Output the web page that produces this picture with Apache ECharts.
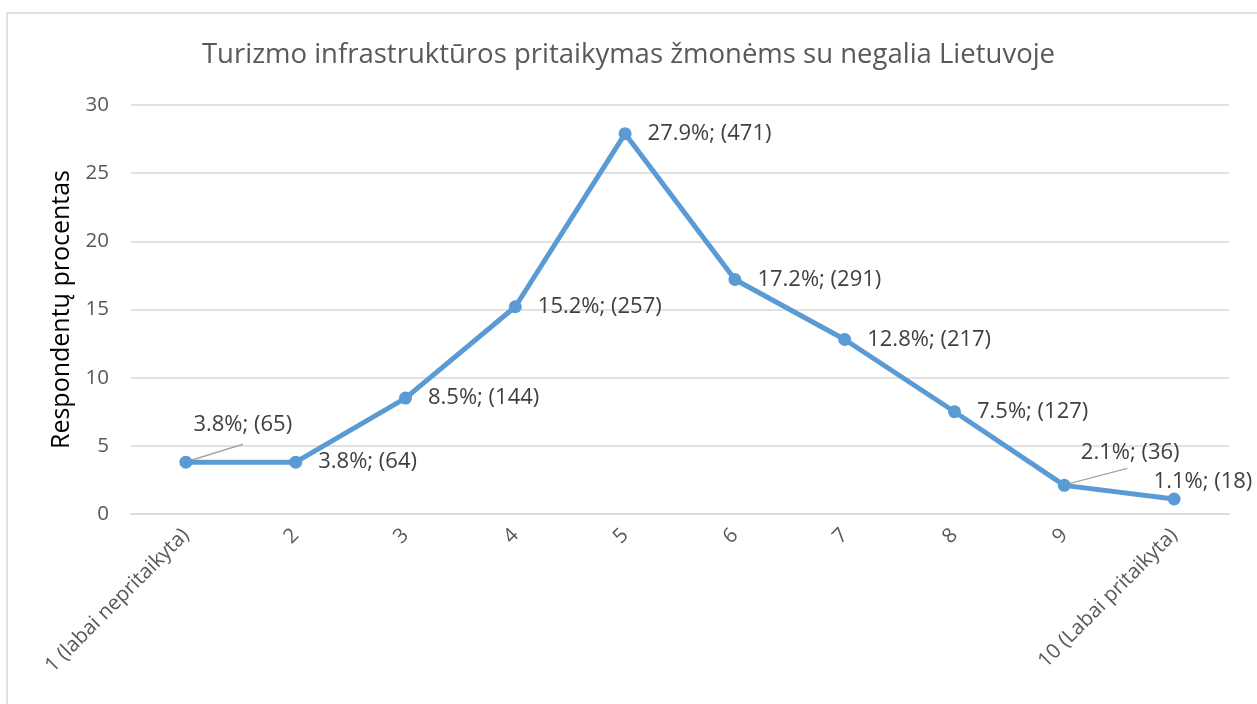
<!DOCTYPE html>
<html>
<head>
<meta charset="utf-8">
<script src="https://cdn.jsdelivr.net/npm/echarts@6/dist/echarts.min.js"></script>
<style>
  html, body { margin: 0; padding: 0; background: #fff; }
  #chart { width: 1257px; height: 704px; }
</style>
</head>
<body>
<div id="chart"></div>
<script>
// duomenys
const categories = ['1 (labai nepritaikyta)', '2', '3', '4', '5', '6', '7', '8', '9', '10 (Labai pritaikyta)']
const percents = [3.8, 3.8, 8.5, 15.2, 27.9, 17.2, 12.8, 7.5, 2.1, 1.1]
const counts = [65, 64, 144, 257, 471, 291, 217, 127, 36, 18]
const yTicks = [0, 5, 10, 15, 20, 25, 30]

const chart = echarts.init(document.getElementById('chart'))

// perkeltos etiketės; line = rodyklės linijos galas (px nuo taško)
const labelShift = {
  0: { dx: -15, dy: -37, line: [57, -18] },
  8: { dx: -6, dy: -33, line: [63, -17] },
  9: { dx: -43, dy: -17 },
}

const guideData = Object.keys(labelShift)
  .filter((k) => labelShift[k].line)
  .map((k) => [Number(k), percents[k]])

chart.setOption({
  animation: false,
  title: {
    text: 'Turizmo infrastruktūros pritaikymas žmonėms su negalia Lietuvoje',
    left: 'center',
    top: 36,
    textStyle: {
      color: '#595959',
      fontFamily: 'Open Sans',
      fontSize: 27.5,
      fontWeight: 'normal',
    },
  },
  graphic: [
    {
      type: 'rect',
      shape: { x: 7, y: 13, width: 1300, height: 800 },
      style: { fill: 'none', stroke: '#d9d9d9', lineWidth: 1.5 },
      silent: true,
    },
  ],
  grid: {
    left: 131,
    right: 28,
    top: 105,
    bottom: 190,
  },
  xAxis: {
    type: 'category',
    data: categories,
    boundaryGap: true,
    axisLine: { lineStyle: { color: '#d9d9d9', width: 1.5 } },
    axisTick: { show: false },
    axisLabel: {
      rotate: 45,
      margin: 18,
      interval: 0,
      color: '#595959',
      fontFamily: 'Open Sans',
      fontSize: 20.5,
    },
  },
  yAxis: {
    type: 'value',
    min: yTicks[0],
    max: yTicks[yTicks.length - 1],
    interval: yTicks[1] - yTicks[0],
    name: 'Respondentų procentas',
    nameLocation: 'middle',
    nameGap: 55,
    nameTextStyle: {
      color: '#000',
      fontFamily: 'Open Sans',
      fontSize: 25,
    },
    axisLine: { show: false },
    axisTick: { show: false },
    splitLine: { lineStyle: { color: '#d9d9d9', width: 1.5 } },
    axisLabel: {
      color: '#595959',
      fontFamily: 'Open Sans',
      fontSize: 20.5,
      margin: 22,
    },
  },
  series: [
    {
      // rodyklės linijos prie perkeltų etikečių
      type: 'custom',
      data: guideData,
      z: 1,
      silent: true,
      renderItem: (params, api) => {
        const p = api.coord([api.value(0), api.value(1)])
        const off = labelShift[api.value(0)].line
        return {
          type: 'line',
          shape: { x1: p[0] + 2, y1: p[1] - 1, x2: p[0] + off[0], y2: p[1] + off[1] },
          style: { stroke: '#a6a6a6', lineWidth: 1.5 },
        }
      },
    },
    {
      type: 'line',
      data: percents,
      z: 2,
      symbol: 'circle',
      symbolSize: 13,
      lineStyle: { color: '#5b9bd5', width: 5 },
      itemStyle: { color: '#5b9bd5' },
      label: {
        show: true,
        position: 'right',
        distance: 16,
        color: '#404040',
        fontFamily: 'Open Sans',
        fontSize: 22,
        formatter: (p) => p.value + '%; (' + counts[p.dataIndex] + ')',
      },
      labelLayout: (params) => {
        const s = labelShift[params.dataIndex]
        return s ? { dx: s.dx, dy: s.dy } : {}
      },
    },
  ],
})

window.addEventListener('resize', () => chart.resize())
</script>
</body>
</html>
